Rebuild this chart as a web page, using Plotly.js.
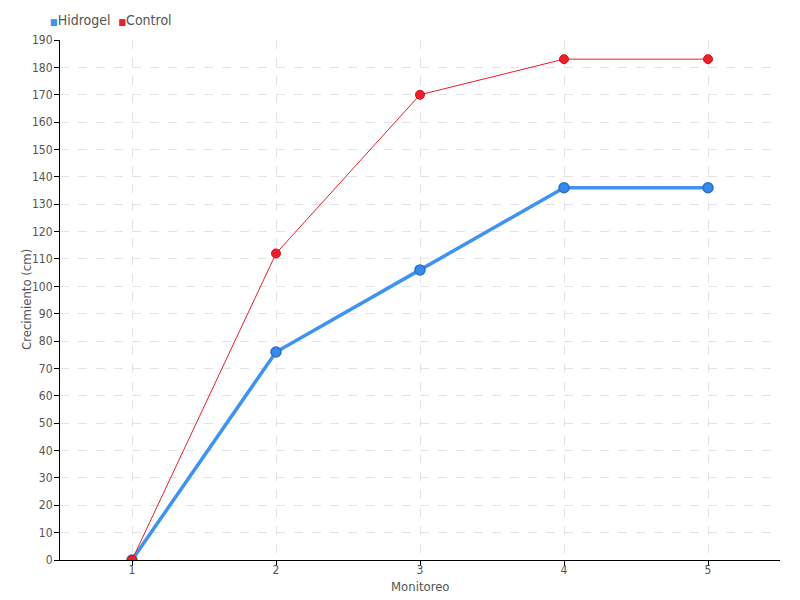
<!DOCTYPE html>
<html>
<head>
<meta charset="utf-8">
<script src="https://cdn.plot.ly/plotly-3.0.1.min.js"></script>
<style>html,body{margin:0;padding:0;background:#fff;}#chart{width:800px;height:600px;}</style>
</head>
<body>
<div id="chart"></div>
<script>
const categories = ["1", "2", "3", "4", "5"];
const hidrogel = [0, 76, 106, 136, 136];
const control = [0, 112, 170, 183, 183];
const seriesNames = ["Hidrogel", "Control"];
const yTicks = [0,10,20,30,40,50,60,70,80,90,100,110,120,130,140,150,160,170,180,190];
const xTitle = "Monitoreo";
const yTitle = "Crecimiento (cm)";

const FONT = "Liberation Sans Narrow, DejaVu Sans Condensed, sans-serif";
const blue = "#3f93f0", red = "#e8202c";

const traces = [
  {x: categories, y: hidrogel, name: seriesNames[0], type: "scatter", mode: "lines+markers",
   line: {color: blue, width: 3.5}, marker: {color: "#3a8aea", size: 10, line: {color: "#2b6fcf", width: 1.5}},
   showlegend: false},
  {x: categories, y: control, name: seriesNames[1], type: "scatter", mode: "lines+markers",
   line: {color: red, width: 1}, marker: {color: red, size: 9, line: {color: "#d4101c", width: 1}},
   showlegend: false}
];

const layout = {
  width: 800, height: 600,
  margin: {l: 60, r: 20, t: 40, b: 40},
  paper_bgcolor: "#fff", plot_bgcolor: "#fff",
  font: {family: FONT, color: "#555", size: 13},
  showlegend: false,
  xaxis: {
    type: "category", range: [-0.5, 4.5],
    showgrid: true, gridcolor: "#e3e3e3", griddash: "dash", gridwidth: 1,
    showline: true, linecolor: "#000", linewidth: 1,
    ticks: "outside", ticklen: 5, tickcolor: "#000",
    ticklabelstandoff: -6,
    tickfont: {family: FONT, size: 12, color: "#555"},
    zeroline: false
  },
  yaxis: {
    range: [0, 190], tickvals: yTicks, ticktext: yTicks.map(String),
    showgrid: true, gridcolor: "#e3e3e3", griddash: "dash", gridwidth: 1,
    showline: true, linecolor: "#000", linewidth: 1,
    ticks: "outside", ticklen: 5, tickcolor: "#000",
    ticklabelstandoff: -1,
    tickfont: {family: FONT, size: 12, color: "#555"},
    zeroline: false
  },
  annotations: [
    {xref: "paper", yref: "paper", x: -0.016, y: 1.0, yshift: 20, xanchor: "left", yanchor: "middle",
     showarrow: false,
     text: '<span style="color:' + blue + ';font-size:9px">■</span>' + seriesNames[0] +
           '  <span style="color:' + red + ';font-size:9px">■</span>' + seriesNames[1],
     font: {family: FONT, size: 14, color: "#555"}},
    {xref: "paper", yref: "paper", x: 0.5, y: 0, yshift: -26, xanchor: "center", yanchor: "middle",
     showarrow: false, text: xTitle, font: {family: FONT, size: 13, color: "#555"}},
    {xref: "paper", yref: "paper", x: 0, xshift: -34, y: 0.5, xanchor: "center", yanchor: "middle",
     textangle: -90, showarrow: false, text: yTitle, font: {family: FONT, size: 13, color: "#555"}}
  ]
};

Plotly.newPlot("chart", traces, layout, {displayModeBar: false, staticPlot: true});
</script>
</body>
</html>
